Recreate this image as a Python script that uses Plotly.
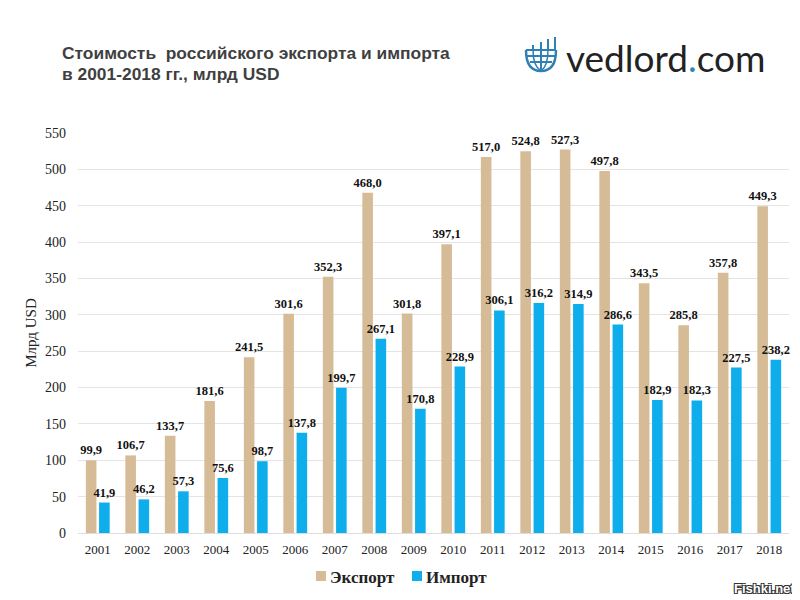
import plotly.graph_objects as go

years = [str(y) for y in [2001,2002,2003,2004,2005,2006,2007,2008,2009,2010,2011,2012,2013,2014,2015,2016,2017,2018]]
export_vals = [99.9,106.7,133.7,181.6,241.5,301.6,352.3,468.0,301.8,397.1,517.0,524.8,527.3,497.8,343.5,285.8,357.8,449.3]
import_vals = [41.9,46.2,57.3,75.6,98.7,137.8,199.7,267.1,170.8,228.9,306.1,316.2,314.9,286.6,182.9,182.3,227.5,238.2]
y_ticks = list(range(0, 551, 50))

OFF = 8  # page body margin
W, H = 800 - OFF, 600 - OFF
L, R, T, B = 78 - OFF, 789 - OFF, 133 - OFF, 533 - OFF
SERIF = "Liberation Serif"
SANS = "Liberation Sans"
LABEL = dict(family=SERIF, size=12.5, color="#111111")
EXPORT_COL, IMPORT_COL = "#D5BC97", "#0DAEEB"

fig = go.Figure()
for name, vals, col in [("Экспорт", export_vals, EXPORT_COL), ("Импорт", import_vals, IMPORT_COL)]:
    fig.add_trace(go.Bar(name=name, x=years, y=vals, marker=dict(color=col, line_width=0),
                         texttemplate="<b>%{y:.1f}</b>", textposition="outside",
                         textfont=LABEL, cliponaxis=False, textangle=0, constraintext="none"))

def px(x): return (x - OFF - L) / (R - L)
def py(y): return (B - (y - OFF)) / (B - T)

OUTLINE = "1px 1px 0 #333,-1px -1px 0 #333,1px -1px 0 #333,-1px 1px 0 #333"
LEG = dict(family=SERIF, size=17, color="#222222")
annos = [
    dict(x=px(60), y=py(53), text="<b>Стоимость  российского экспорта и импорта</b>", font=dict(family=SANS, size=17.4, color="#3F3F3F")),
    dict(x=px(60), y=py(74), text="<b>в 2001-2018 гг., млрд USD</b>", font=dict(family=SANS, size=17.4, color="#3F3F3F")),
    dict(x=px(564), y=py(57), text="vedlord<span style='color:#2E86B8'>.</span>com", font=dict(family="Lato", size=37, color="#222222")),
    dict(x=px(732), y=py(588), text="<b>Fishki.net</b>", font=dict(family=SANS, size=13, color="#FFFFFF", shadow=OUTLINE)),
    dict(x=px(328), y=py(577), text="<b>Экспорт</b>", font=LEG),
    dict(x=px(424), y=py(577), text="<b>Импорт</b>", font=LEG),
]
for a in annos:
    a.update(xref="paper", yref="paper", xanchor="left", yanchor="middle", showarrow=False)

BLUE = "#2F80B5"
P = dict(xref="paper", yref="paper")
shapes = []
# legend swatches
for x0, col in [(316, EXPORT_COL), (412, IMPORT_COL)]:
    shapes.append(dict(type="rect", x0=px(x0), x1=px(x0 + 10), y0=py(571), y1=py(581), fillcolor=col, line_width=0, **P))
# logo icon
for x, top in [(533, 45), (541, 42), (548, 39), (555, 37)]:
    shapes.append(dict(type="line", x0=px(x), x1=px(x), y0=py(top), y1=py(50), line=dict(color=BLUE, width=2), **P))
for y, a, b in [(50, 526, 556), (56, 527, 555), (62, 530, 552)]:
    shapes.append(dict(type="line", x0=px(a), x1=px(b), y0=py(y), y1=py(y), line=dict(color=BLUE, width=2), **P))
shapes.append(dict(type="path", path=f"M{px(526)},{py(50)} Q{px(526)},{py(71)} {px(541)},{py(71)} Q{px(556)},{py(71)} {px(556)},{py(50)}", line=dict(color=BLUE, width=2.5), **P))
shapes.append(dict(type="path", path=f"M{px(533)},{py(50)} Q{px(533)},{py(66)} {px(541)},{py(71)} Q{px(548)},{py(66)} {px(548)},{py(50)}", line=dict(color=BLUE, width=1.5), **P))
shapes.append(dict(type="line", x0=px(541), x1=px(541), y0=py(50), y1=py(71), line=dict(color=BLUE, width=2), **P))

fig.update_layout(
    width=W, height=H, autosize=False,
    margin=dict(l=L, r=W - R, t=T, b=H - B, autoexpand=False),
    paper_bgcolor="white", plot_bgcolor="white",
    barmode="group", bargap=0.33, bargroupgap=0.2,
    separators=", ",
    showlegend=False,
    font=dict(family=SERIF),
    xaxis=dict(type="category", tickfont=dict(family=SERIF, size=13, color="#222222"), showgrid=False,
               showline=True, linecolor="#DDDDDD", ticks="", automargin=False, ticklabelstandoff=4),
    yaxis=dict(range=[0, 550], tickvals=y_ticks, tickfont=dict(family=SERIF, size=14, color="#222222"),
               gridcolor="#E4E4E4", gridwidth=1, zeroline=False, showline=False, ticks="", automargin=False,
               ticklabelstandoff=11,
               title=dict(text="Млрд USD", font=dict(family=SERIF, size=15, color="#222222"), standoff=4)),
    annotations=annos, shapes=shapes,
)
fig.write_html("out.html")
